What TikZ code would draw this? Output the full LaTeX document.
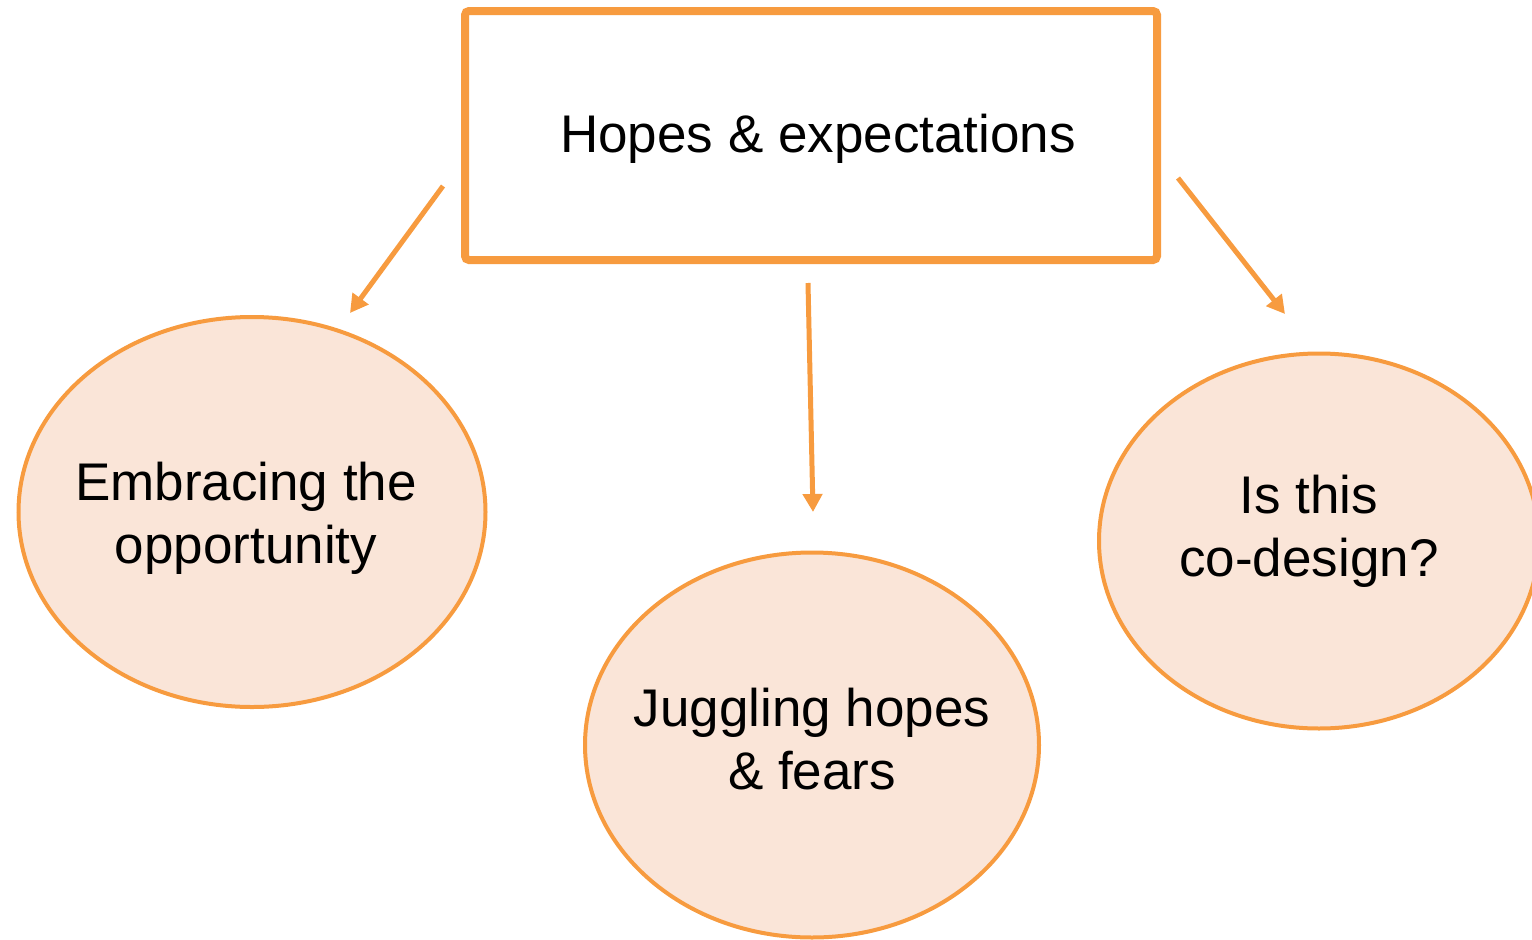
\documentclass[tikz,border=0pt]{standalone}
\usepackage{fontspec}
\setmainfont{Liberation Sans}
\usetikzlibrary{shapes.geometric,arrows.meta,calc}
\definecolor{orng}{HTML}{F79B3F}
\definecolor{peach}{HTML}{FAE5D8}
\tikzset{
  topbox/.style={draw=orng, line width=8pt, rounded corners=4pt, fill=white,
    minimum width=692pt, minimum height=249pt, inner sep=0pt},
  bubble/.style={ellipse, draw=orng, fill=peach, line width=4pt, inner sep=0pt},
  lbl/.style={align=center, inner sep=0pt, font=\fontsize{53}{63}\selectfont},
  link/.style={draw=orng, line width=5pt, -{Triangle[length=18pt,width=19pt]}}
}
\begin{document}
\begin{tikzpicture}[x=1pt,y=-1pt]
\useasboundingbox (0,0) rectangle (1532,940);
\node[topbox] (top) at (811,135.5) {};
\node[lbl] (toptxt) at ($(top.center)+(7,3)$) {Hopes \& expectations};
\node[bubble, minimum width=467pt, minimum height=390pt] (emb) at (252,512) {};
\node[lbl] (embtxt) at ($(emb.center)+(-6,6)$) {Embracing the\\opportunity};
\node[bubble, minimum width=454pt, minimum height=385pt] (jug) at (812,745) {};
\node[lbl] (jugtxt) at ($(jug.center)+(0,-6)$) {Juggling hopes\\\& fears};
\node[bubble, minimum width=440pt, minimum height=375pt] (cod) at (1319,541) {};
\node[lbl] (codtxt) at ($(cod.center)+(-10,-10)$) {Is this\\co-design?};
\coordinate (a1s) at (443,186);
\coordinate (a1e) at (350,313);
\coordinate (a2s) at (808,283);
\coordinate (a2e) at (813,512);
\coordinate (a3s) at (1178,178);
\coordinate (a3e) at (1285,314);
\draw[link] (a1s) -- (a1e);
\draw[link] (a2s) -- (a2e);
\draw[link] (a3s) -- (a3e);
\end{tikzpicture}
\end{document}
